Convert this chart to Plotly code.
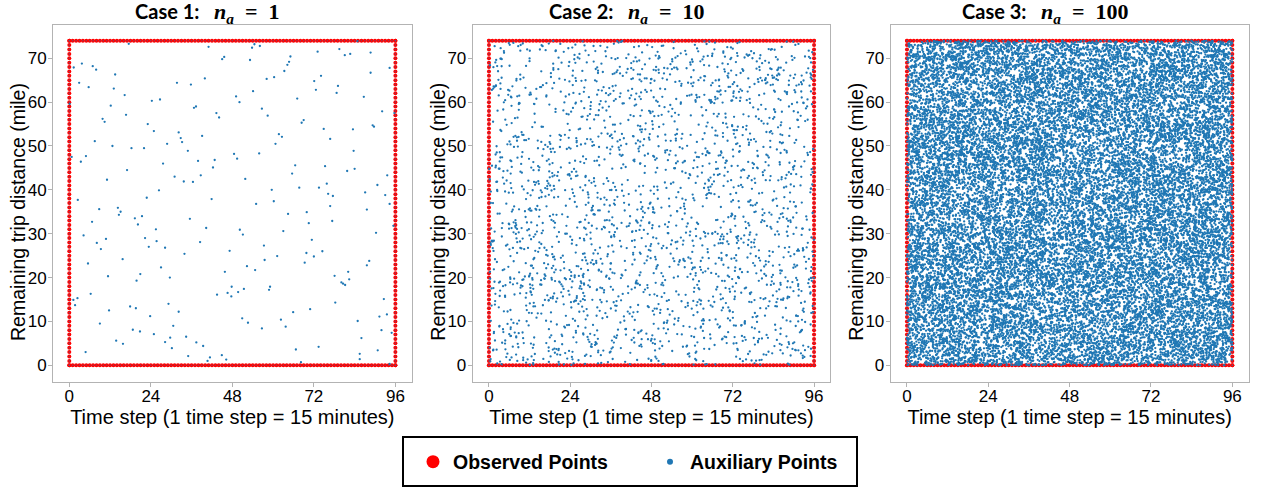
import numpy as np
import plotly.graph_objects as go

W, H = 1262, 492

# Domain of the trip: time steps 0..96 (15 min each), remaining distance 0..74 miles
T_MAX = 96
D_MAX = 74
time_steps = list(range(0, T_MAX + 1))
distances = list(range(0, D_MAX + 1))

# Observed points lie on the boundary of the domain
obs_x = time_steps + time_steps + [0] * len(distances) + [T_MAX] * len(distances)
obs_y = [0] * len(time_steps) + [D_MAX] * len(time_steps) + distances + distances

# Case 1 auxiliary points (n_a = 1)
aux1_x = [
    17.5, 41.0, 45.6, 45.0, 3.7, 1.3, 6.9, 7.9, 13.5, 39.9, 2.9, 31.7, 35.8, 5.7, 13.1, 16.3,
    24.3, 26.7, 0.1, 12.2, 36.7, 37.3, 16.7, 9.8, 10.4, 43.3, 44.1, 23.1, 24.9, 32.2, 32.8,
    33.2, 39.1, 7.5, 12.7, 28.8, 18.3, 22.0, 34.9, 48.5, 0.7, 4.9, 3.4, 27.6, 37.9, 42.8,
    42.3, 17.0, 11.1, 31.0, 33.7, 36.4, 38.7, 26.4, 2.5, 22.8, 41.9,
    8.8, 14.3, 15.1, 14.6, 19.3, 21.4, 6.7, 35.5, 20.2, 25.5, 40.3, 4.2, 10.8, 8.1, 22.3,
    25.7, 38.5, 9.3, 23.4, 28.2, 47.2, 33.9, 15.7, 5.5, 27.0, 11.4, 20.9, 19.8, 29.6, 45.8,
    47.8, 6.3, 43.5, 46.6, 47.7, 2.4, 1.2, 1.7, 29.2, 11.7, 17.9, 19.6, 32.2, 23.8, 9.0,
    30.6, 18.7, 20.8, 24.9, 34.4, 29.7, 13.8, 15.8, 28.2, 37.4, 39.4, 30.2, 4.8, 35.0, 41.4,
    44.9, 40.7, 46.2,
    54.5, 53.8, 56.1, 73.1, 79.5, 81.1, 82.7, 88.7, 84.8, 53.2, 65.1, 64.7, 64.2, 63.3, 94.3,
    88.7, 74.1, 60.3, 58.1, 72.1, 79.1, 72.6, 54.1, 78.7, 49.1, 86.7, 67.1, 50.1, 56.7, 92.1,
    95.7, 58.4, 69.0, 68.4, 89.3, 89.7, 74.9, 83.5, 61.7, 62.6, 76.8, 60.7, 55.9, 83.7, 49.4,
    66.5, 75.3, 84.0, 81.8, 65.6, 93.6, 51.8, 75.8, 90.7, 67.7, 73.5, 59.6, 76.2, 77.6, 87.1,
    93.0, 60.2, 55.0, 94.3,
    87.6, 76.8, 64.4, 69.9, 70.5, 77.4, 95.4, 50.2, 51.1, 63.0, 90.3, 71.4, 57.3, 74.5, 69.8,
    72.0, 61.2, 57.5, 69.3, 88.3, 87.6, 52.3, 54.7, 82.1, 78.1, 82.4, 80.1, 80.6, 81.2, 59.1,
    58.8, 51.4, 49.7, 92.6, 78.3, 70.9, 65.9, 93.5, 91.3, 50.9, 62.3, 52.6, 84.9, 63.7, 56.7,
    91.9, 94.9, 86.0, 66.7, 73.4, 90.8, 85.5, 85.5, 68.2, 94.3,
]
aux1_y = [
    73.3, 72.6, 70.3, 69.8, 68.8, 67.9, 68.2, 67.4, 66.3, 65.4, 64.4, 64.4, 64.0, 63.4, 63.1, 61.6,
    60.3, 60.6, 59.6, 59.2, 58.7, 59.0, 57.1, 56.2, 55.5, 57.5, 56.5, 55.0, 53.4, 53.1, 51.8,
    50.9, 52.3, 51.1, 50.0, 50.5, 49.5, 49.5, 48.9, 48.2, 47.5, 47.7, 46.4, 46.0, 46.6, 46.8,
    45.1, 44.5, 42.3, 43.0, 41.9, 41.8, 43.3, 39.9, 37.7, 38.2, 37.9,
    35.6, 35.9, 35.0, 34.3, 33.5, 34.0, 32.7, 33.4, 32.1, 31.0, 31.3, 29.6, 28.8, 27.9, 29.0,
    28.3, 28.1, 26.5, 27.0, 26.8, 26.1, 25.4, 24.2, 23.2, 22.3, 20.3, 20.8, 19.3, 20.0, 21.3,
    17.9, 16.3, 16.1, 16.5, 15.7, 15.3, 14.9, 13.7, 14.0, 12.5, 13.4, 13.0, 12.2, 11.2, 9.5,
    9.0, 8.1, 7.7, 7.1, 6.5, 6.3, 5.6, 4.9, 5.3, 5.2, 4.4, 3.9, 3.0, 2.1, 1.8,
    2.3, 1.0, 1.3,
    73.2, 72.4, 72.8, 71.5, 72.1, 70.7, 71.0, 71.3, 73.9, 69.6, 70.4, 69.2, 68.5, 67.1, 67.8,
    66.7, 66.0, 65.7, 65.3, 64.8, 63.7, 62.8, 62.5, 62.1, 61.3, 61.2, 60.8, 60.0, 58.5, 57.9,
    57.5, 56.9, 55.9, 55.3, 54.7, 54.4, 53.9, 53.8, 52.7, 52.1, 51.6, 50.5, 48.3, 48.9, 47.1,
    45.6, 45.4, 44.8, 44.3, 43.7, 43.3, 42.5, 41.4, 41.1, 40.5, 40.5, 40.0, 39.1, 38.6, 39.4,
    38.8, 37.4, 36.8, 36.8,
    35.5, 36.3, 34.5, 34.9, 32.4, 32.9, 31.8, 30.9, 29.8, 30.6, 30.2, 28.6, 27.3, 26.0, 25.6,
    24.8, 24.9, 24.0, 23.4, 23.8, 22.8, 22.6, 21.7, 21.3, 20.4, 19.6, 18.9, 18.6, 18.3, 17.9,
    17.2, 17.4, 16.7, 15.1, 14.3, 12.8, 12.1, 11.6, 11.1, 10.7, 10.4, 9.7, 10.1, 8.8, 8.4,
    8.0, 7.4, 6.2, 3.6, 4.2, 3.4, 2.6, 1.4, 0.7, 0.3,
]

# Cases 2 and 3: auxiliary collocation points drawn uniformly over the domain
n_aux = [1, 10, 100]
n_points_case1 = len(aux1_x)
sampler = np.random.default_rng(7)
aux_sets = [(aux1_x, aux1_y)]
for n in n_aux[1:]:
    count = n_points_case1 * n
    aux_sets.append((sampler.uniform(0, T_MAX, count), sampler.uniform(0, D_MAX, count)))

x_ticks = [0, 24, 48, 72, 96]
y_ticks = [0, 10, 20, 30, 40, 50, 60, 70]

RED = "#ff0000"
BLUE = "#1f77b4"
AX_COLOR = "#b3b3b3"
TEXT_FONT = "Liberation Sans, Arial, sans-serif"

# Panel frames in pixels (left, right), shared top/bottom
panels_px = [(53, 411.7), (472.7, 830.3), (890.7, 1248.6)]
top_px, bottom_px = 24.5, 381.5
y_dom = [1 - bottom_px / H, 1 - top_px / H]

fig = go.Figure()
layout_axes = {}
annotations = []
for i, ((ax, ay), n) in enumerate(zip(aux_sets, n_aux)):
    k = "" if i == 0 else str(i + 1)
    xa, ya = "x" + k, "y" + k
    fig.add_trace(go.Scatter(
        x=obs_x, y=obs_y, mode="markers", xaxis=xa, yaxis=ya,
        marker=dict(color=RED, size=4.0, line=dict(width=0)),
        showlegend=False, hoverinfo="skip"))
    fig.add_trace(go.Scatter(
        x=ax, y=ay, mode="markers", xaxis=xa, yaxis=ya,
        marker=dict(color=BLUE, size=2.3, line=dict(width=0)),
        showlegend=False, hoverinfo="skip"))
    # boundary samples also carry an auxiliary marker
    fig.add_trace(go.Scatter(
        x=obs_x, y=obs_y, mode="markers", xaxis=xa, yaxis=ya,
        marker=dict(color=BLUE, size=1.6, opacity=0.5, line=dict(width=0)),
        showlegend=False, hoverinfo="skip"))

    l, r = panels_px[i]
    dom = [l / W, r / W]
    common = dict(showline=True, mirror=True, linecolor=AX_COLOR, linewidth=1,
                  showgrid=False, zeroline=False, ticks="outside", ticklen=4,
                  tickcolor=AX_COLOR, tickwidth=1,
                  tickfont=dict(family=TEXT_FONT, size=17, color="black"))
    layout_axes["xaxis" + k] = dict(
        domain=dom, anchor=ya, range=[-4.8, 100.8], tickvals=x_ticks,
        ticklabelstandoff=-5,
        title=dict(text="Time step (1 time step = 15 minutes)",
                   font=dict(family=TEXT_FONT, size=20, color="black"), standoff=2),
        **common)
    layout_axes["yaxis" + k] = dict(
        domain=y_dom, anchor=xa, range=[-3.7, 77.7], tickvals=y_ticks,
        ticklabelstandoff=-2, **common)

    # y-axis title
    annotations.append(dict(
        xref="paper", yref="paper", x=(l - 35) / W, y=1 - 212 / H,
        xanchor="center", yanchor="middle", showarrow=False, textangle=-90,
        text="Remaining trip distance (mile)",
        font=dict(family=TEXT_FONT, size=19.5, color="black")))

    # panel title: "Case k:" followed by the n_a expression
    split = l + 147 - 5.5 * (len(str(n)) - 1)
    annotations.append(dict(
        xref="paper", yref="paper", x=(split + 1) / W, y=1 - 11 / H,
        xanchor="right", yanchor="middle", showarrow=False,
        text=f"<b>Case {i + 1}:</b>",
        font=dict(family="Lato, sans-serif", size=20, color="black")))
    annotations.append(dict(
        xref="paper", yref="paper", x=(split + 12) / W, y=1 - 13 / H,
        xanchor="left", yanchor="middle", showarrow=False,
        text=f"<b><i>n</i></b><sub><b><i>a</i></b></sub><b>&nbsp;&nbsp;=&nbsp;&nbsp;{n}</b>",
        font=dict(family="Liberation Serif, serif", size=22, color="black")))

# Legend-only entries
fig.add_trace(go.Scatter(x=[None], y=[None], mode="markers", name="Observed Points",
                         marker=dict(color=RED, size=13)))
fig.add_trace(go.Scatter(x=[None], y=[None], mode="markers", name="Auxiliary Points",
                         marker=dict(color=BLUE, size=6)))

fig.update_layout(
    width=W, height=H,
    margin=dict(l=0, r=0, t=0, b=0),
    paper_bgcolor="white", plot_bgcolor="white",
    annotations=annotations,
    showlegend=True,
    legend=dict(orientation="h", x=413 / W, xanchor="left", y=1 - 462 / H, yanchor="middle",
                bgcolor="rgba(0,0,0,0)", borderwidth=0, entrywidth=192, entrywidthmode="pixels",
                font=dict(family=TEXT_FONT, size=19.5, color="black", weight="bold")),
    shapes=[dict(type="rect", xref="paper", yref="paper",
                 x0=403 / W, x1=857 / W, y0=1 - 486 / H, y1=1 - 437 / H,
                 line=dict(color="black", width=2), fillcolor="rgba(0,0,0,0)")],
    **layout_axes,
)

fig.write_html("out.html")
